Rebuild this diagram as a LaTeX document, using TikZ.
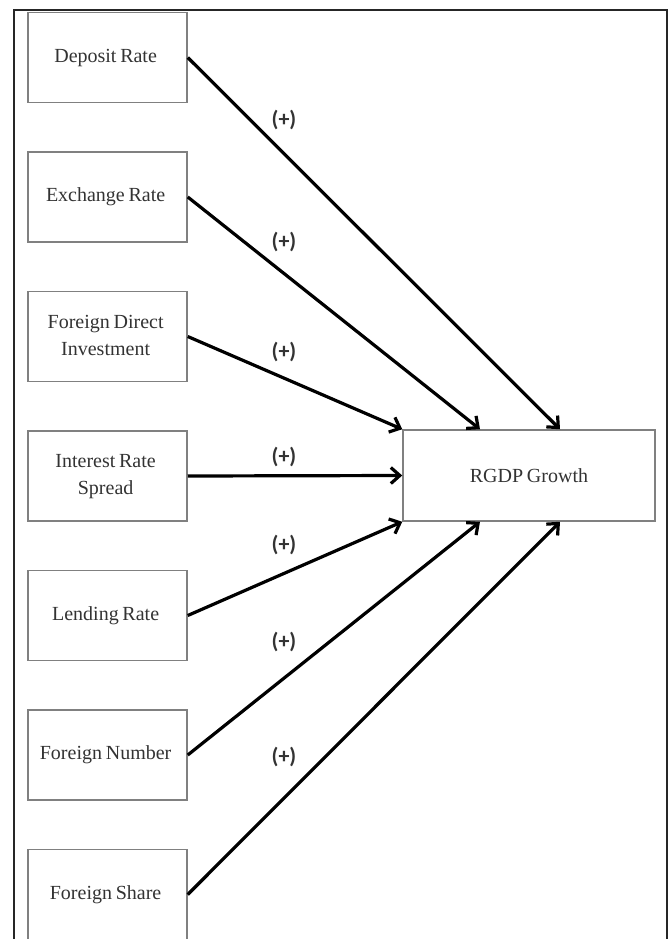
\documentclass[tikz,border=0pt]{standalone}
\usepackage{fontspec}
\setmainfont{Liberation Serif}[WordSpace=0.75]
\newfontfamily\lblfont{Carlito}
\usepackage{tikz}
\usetikzlibrary{matrix, arrows.meta}
\newcommand{\twolines}[2]{\begin{tabular}{@{}c@{}}#1\\#2\end{tabular}}

\begin{document}
\begin{tikzpicture}[x=1pt, y=-1pt,
  box/.style={draw=black!50, line width=1.5pt, fill=white, text=black!80, font=\fontsize{20}{27}\selectfont, align=center, minimum width=159pt, minimum height=90pt, anchor=center},
  arr/.style={line width=3.2pt, -{Straight Barb[length=9pt, width=16pt, line width=3.2pt]}},
  sign/.style={font=\lblfont\bfseries\fontsize{22}{24}\selectfont, text=black!80}]
\useasboundingbox (0,0) rectangle (671,939);
\draw[line width=2pt, black!85] (14,939) -- (14,10) -- (667,10) -- (667,939);
\matrix (V) at (107.5,476) [matrix of nodes, row sep=48pt, nodes={box}] {
Deposit Rate \\
Exchange Rate \\
\twolines{Foreign Direct}{Investment} \\
\twolines{Interest Rate}{Spread} \\
Lending Rate \\
Foreign Number \\
Foreign Share \\
};
\node[box, minimum width=252pt, minimum height=91pt] (G) at (529,475.5) {RGDP Growth};
\draw[arr] (V-1-1.east) -- ([xshift=31pt]G.north);
\draw[arr] (V-2-1.east) -- ([xshift=-49pt]G.north);
\draw[arr] (V-3-1.east) -- (G.north west);
\draw[arr] (V-4-1.east) -- (G.west);
\draw[arr] (V-5-1.east) -- (G.south west);
\draw[arr] (V-6-1.east) -- ([xshift=-49pt]G.south);
\draw[arr] (V-7-1.east) -- ([xshift=31pt]G.south);
\node[sign] (p1) at (284,120) {(+)};
\node[sign] (p2) at (284,242) {(+)};
\node[sign] (p3) at (284,352) {(+)};
\node[sign] (p4) at (284,457) {(+)};
\node[sign] (p5) at (284,545) {(+)};
\node[sign] (p6) at (284,642) {(+)};
\node[sign] (p7) at (284,757) {(+)};
\end{tikzpicture}
\end{document}
